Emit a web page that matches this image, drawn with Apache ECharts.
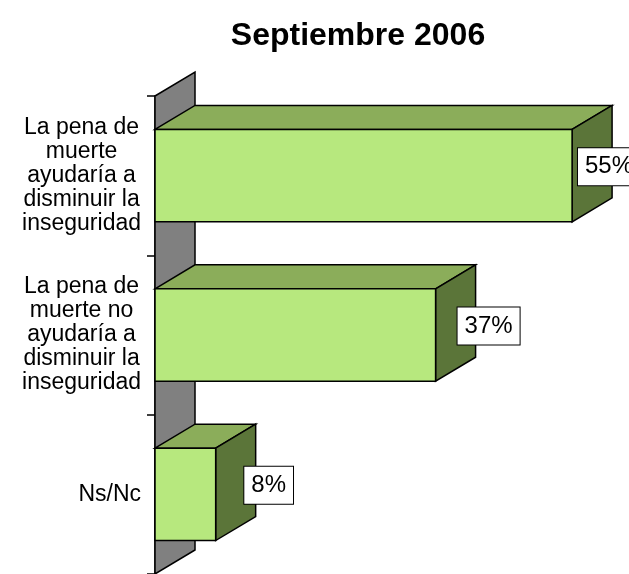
<!DOCTYPE html>
<html>
<head>
<meta charset="utf-8">
<script src="https://cdn.jsdelivr.net/npm/echarts@6/dist/echarts.min.js"></script>
<style>
  html, body { margin: 0; padding: 0; background: #fff; }
  #main { width: 629px; height: 574px; }
</style>
</head>
<body>
<div id="main"></div>
<script>
// datos
var categories = [
  'La pena de\nmuerte\nayudaría a\ndisminuir la\ninseguridad',
  'La pena de\nmuerte no\nayudaría a\ndisminuir la\ninseguridad',
  'Ns/Nc'
];
var values = [55, 37, 8];
var titleText = 'Septiembre 2006';

var DX = 40, DY = -24;   // profundidad 3D
var FONT = '"Liberation Sans", Arial, sans-serif';

var myChart = echarts.init(document.getElementById('main'));

function renderWall(params, api) {
  var r = params.coordSys;
  var x = r.x, y = r.y, h = r.height;
  return {
    type: 'polygon',
    shape: { points: [[x, y], [x + DX, y + DY], [x + DX, y + h + DY], [x, y + h]] },
    style: { fill: '#808080', stroke: '#000', lineWidth: 1.5 }
  };
}

function renderBar(params, api) {
  var v = api.value(0);
  var idx = api.value(1);
  var start = api.coord([0, idx]);
  var end = api.coord([v, idx]);
  var bh = api.size([0, 1])[1] * 0.58;
  var x0 = start[0], x1 = end[0];
  var y0 = start[1] - bh / 2, y1 = start[1] + bh / 2;
  var line = { stroke: '#000', lineWidth: 1.5 };
  // etiqueta centrada a la derecha del bloque, sin salirse demasiado
  var lx = Math.min(x1 + DX + 13, api.getWidth() - 20);
  return {
    type: 'group',
    children: [
      { type: 'polygon',
        shape: { points: [[x0, y0], [x0 + DX, y0 + DY], [x1 + DX, y0 + DY], [x1, y0]] },
        style: Object.assign({ fill: '#8BAD5A' }, line) },
      { type: 'polygon',
        shape: { points: [[x1, y0], [x1 + DX, y0 + DY], [x1 + DX, y1 + DY], [x1, y1]] },
        style: Object.assign({ fill: '#5B7539' }, line) },
      { type: 'rect',
        shape: { x: x0, y: y0, width: x1 - x0, height: y1 - y0 },
        style: Object.assign({ fill: '#B7E87E' }, line) },
      { type: 'text', x: lx, y: start[1] - 9,
        style: {
          text: v + '%', font: '24px ' + FONT, fill: '#000',
          align: 'center', verticalAlign: 'middle',
          backgroundColor: '#fff', borderColor: '#000', borderWidth: 1,
          padding: [7, 7, 6, 7]
        } }
    ]
  };
}

var option = {
  animation: false,
  title: {
    text: titleText,
    left: 353, top: 15, textAlign: 'center',
    textStyle: { fontFamily: FONT, fontSize: 32, fontWeight: 'bold', color: '#000' }
  },
  grid: { left: 155, top: 96, width: 455, height: 480, containLabel: false },
  xAxis: {
    type: 'value', min: 0, max: 60, show: false
  },
  yAxis: {
    type: 'category', inverse: true, data: categories,
    axisLine: { show: true, lineStyle: { color: '#000', width: 1.5 } },
    axisTick: { show: true, length: 8, lineStyle: { color: '#000', width: 1.5 } },
    axisLabel: {
      color: '#000', margin: 14, align: 'right',
      formatter: function (val) {
        return val.split('\n').map(function (l) { return '{c|' + l + '}'; }).join('\n');
      },
      rich: {
        c: { align: 'center', fontFamily: FONT, fontSize: 23, lineHeight: 24, color: '#000' }
      }
    },
    splitLine: { show: false }
  },
  series: [
    { type: 'custom', renderItem: renderWall, data: [[0, 0]], z: 1, silent: true },
    {
      type: 'custom', renderItem: renderBar, z: 2,
      encode: { x: 0, y: 1 },
      data: values.map(function (v, i) { return [v, i]; })
    }
  ]
};

myChart.setOption(option);
</script>
</body>
</html>
